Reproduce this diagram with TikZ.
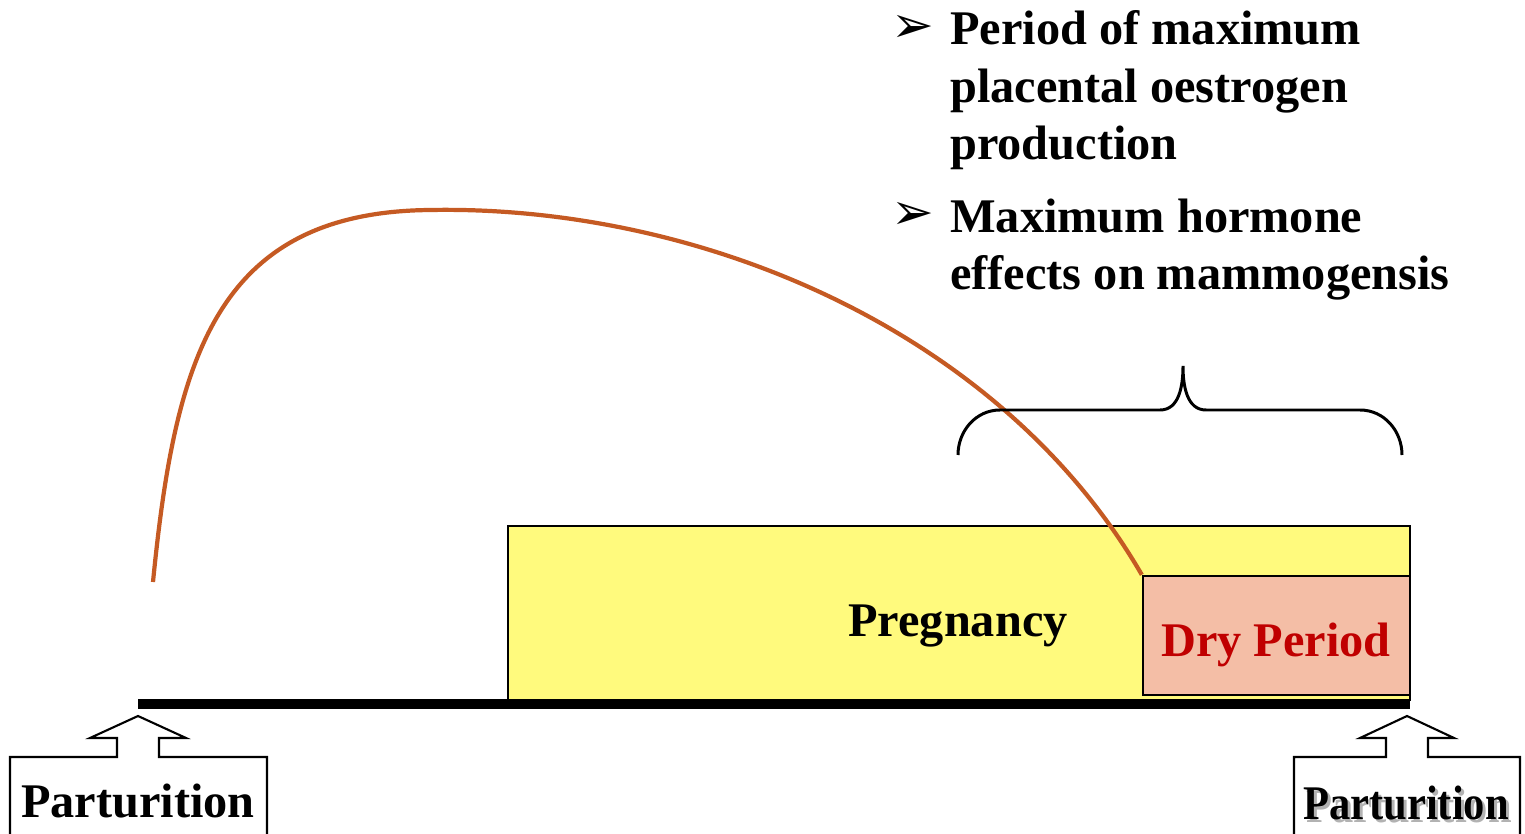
\documentclass[tikz,border=0pt]{standalone}
\usepackage{fontspec}
\setmainfont{Liberation Serif}
\newfontfamily\symfont{DejaVu Sans}
\usetikzlibrary{positioning}

\definecolor{pregyellow}{RGB}{255,250,125}
\definecolor{dryfill}{RGB}{244,190,166}
\definecolor{dryred}{RGB}{192,0,0}
\definecolor{curvebrown}{RGB}{197,90,35}

\begin{document}
\begin{tikzpicture}[x=0.02cm,y=-0.02cm,
  bold/.style={font=\fontsize{27.5}{33}\selectfont\bfseries,inner sep=0pt},
  bullet/.style={font=\symfont\fontsize{29}{33}\selectfont,inner sep=0pt},
  callout/.style={draw=black,line width=1.2pt,fill=white,line join=miter}]
  \clip (0,0) rectangle (1525,834);

  \node[draw=black,line width=1.2pt,fill=pregyellow,minimum width=18.04cm,minimum height=3.48cm,inner sep=0pt] (preg) at (959,613) {};
  \node[bold,anchor=base] (preglabel) at (958,636) {Pregnancy};
  \node[draw=black,line width=1.4pt,fill=dryfill,minimum width=5.34cm,minimum height=2.38cm,inner sep=0pt] (dry) at (1276.5,635.5) {};
  \node[bold,text=dryred,anchor=base] (drylabel) at (1276,656) {Dry Period};

  \draw[line width=5.7pt] (138,704) -- (1410,704);

  % oestrogen curve
  \coordinate (start) at (153,582);
  \coordinate (peak) at (430,210);
  \draw[curvebrown,line width=2.4pt] (start) .. controls (175,360) and (215,212) .. (peak)
    .. controls (700,205) and (1000,330) .. (dry.north west);

  % brace over the late pregnancy
  \coordinate (braceL) at (958,455);
  \coordinate (braceR) at (1402,455);
  \coordinate (tip) at (1183,366);
  \draw[line width=1.7pt] (braceL) to[out=90,in=180] (1000,410) -- (1160,410)
    to[out=0,in=-90] (tip) to[out=-90,in=180] (1206,410) -- (1360,410) to[out=0,in=90] (braceR);

  \node[bullet,anchor=base west] (b1) at (891,43) {➢};
  \node[bold,anchor=base west,align=left] (t1) at (950,160) {Period of maximum\\placental oestrogen\\production};
  \node[bullet,anchor=base west] (b2) at (891,230) {➢};
  \node[bold,anchor=base west,align=left] (t2) at (950,290) {Maximum hormone\\effects on mammogensis};

  % parturition callouts
  \draw[callout] (10,850) -- (10,757) -- (117,757) -- (117,738) -- (90,738) -- (138,716)
    -- (186,738) -- (159,738) -- (159,757) -- (267,757) -- (267,850);
  \node[bold,anchor=base] (partL) at (138,817) {Parturition};
  \draw[callout] (1294,850) -- (1294,757) -- (1386,757) -- (1386,738) -- (1360,738) -- (1407,716)
    -- (1454,738) -- (1428,738) -- (1428,757) -- (1520,757) -- (1520,850);
  \node[bold,xscale=0.88,anchor=base,text=black!30] (partRshadow) at (1409,822) {Parturition};
  \node[bold,xscale=0.88,anchor=base] (partR) at (1406,819) {Parturition};
\end{tikzpicture}
\end{document}
